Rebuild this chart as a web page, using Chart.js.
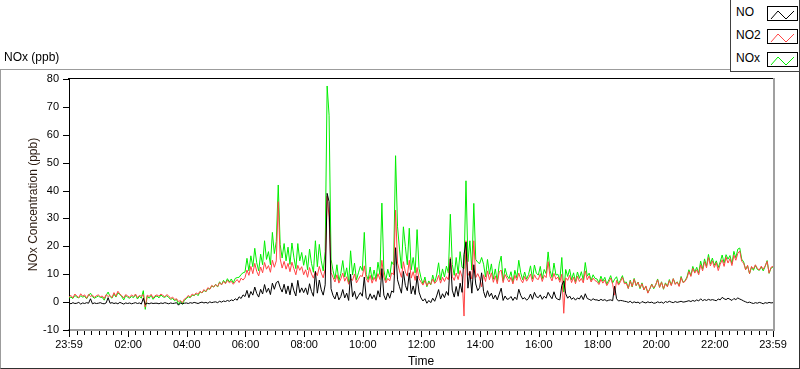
<!DOCTYPE html>
<html>
<head>
<meta charset="utf-8">
<script src="https://cdn.jsdelivr.net/npm/chart.js@4.4.1/dist/chart.umd.min.js"></script>
<style>
  html, body { margin:0; padding:0; background:#fff; }
  body { width:800px; height:369px; position:relative; overflow:hidden; font-family:"Liberation Sans", Arial, sans-serif; color:#000; }
  #wrap { position:absolute; left:0; top:0; width:800px; height:369px; }
  #panel { position:absolute; left:0; top:69px; width:798px; height:298px; border-top:1px solid #9c9c9c; border-left:1px solid #9c9c9c; border-right:1px solid #303030; border-bottom:1px solid #303030; pointer-events:none; }
  #title { position:absolute; left:4px; top:50px; font-size:12px; }
  #legend { position:absolute; left:730px; top:-1px; width:68px; height:72px; background:#fff; border:1px solid #404040; border-top:none; }
  .item { position:absolute; left:5px; font-size:12px; }
  .swatch { position:absolute; left:36px; width:29px; height:13px; border:1px solid #000; background:#fff; }
</style>
</head>
<body>
<div id="wrap"><canvas id="chart"></canvas></div>
<div id="panel"></div>
<div id="title">NOx (ppb)</div>
<div id="legend"></div>
<script>
// samples every 4 minutes, starting 23:59 (minute 0) to 23:59 next day (minute 1440)
const sampleStep = 4;

const no2Values = [
  1.8, 2.4, 1.5, 2.9, 2.2, 1.6, 3.0, 2.1, 2.6, 1.4, 2.8, 2.0, 2.5, 1.7, 2.3,
  2.6, 1.9, 2.2, 1.3, 2.7, 2.0, 2.4, 1.6, 3.4, 2.1, 3.9, 2.9, 2.3, 1.5, 2.7,
  2.2, 1.7, 2.6, 2.0, 2.9, 1.6, 2.4, 2.1, 2.7, -1.8, 2.5, 2.0, 2.8, 1.5, 2.3,
  2.6, 2.1, 2.9, 2.4, 1.9, 2.7, 2.2, 1.3, 1.8, 0.9, 1.2, 0.2, 0.6, -0.2, 1.1,
  1.5, 2.4, 1.8, 2.9, 2.4, 3.3, 2.8, 3.9, 3.3, 4.5, 3.8, 5.2, 4.6, 6.0, 5.4,
  6.3, 5.6, 7.0, 6.2, 7.4, 6.6, 7.8, 6.9, 7.5, 6.4, 7.3, 8.1, 7.0, 8.6, 7.9,
  8.8, 11.5, 9.6, 12.8, 10.2, 13.9, 11.0, 9.4, 12.6, 10.5, 14.2, 11.8, 13.1, 10.7, 15.0,
  12.5, 14.8, 36.0, 15.5, 12.2, 14.6, 11.8, 13.9, 10.9, 14.3, 12.0, 9.8, 13.2, 11.4, 12.7,
  9.8, 11.6, 8.9, 12.4, 10.1, 8.6, 11.0, 9.5, 12.8, 10.4, 8.7, 11.9, 38.0, 30.5, 10.6,
  8.9, 7.2, 9.8, 6.8, 8.3, 10.4, 7.5, 9.1, 6.4, 8.4, 7.8, 10.1, 6.9, 8.2, 9.5,
  9.2, 13.0, 8.4, 7.1, 9.6, 6.8, 8.9, 7.4, 10.2, 8.1, 15.0, 9.0, 6.9, 8.5, 7.6,
  10.5, 9.8, 33.0, 14.0, 11.2, 8.9, 14.5, 10.8, 9.3, 15.0, 8.6, 10.9, 7.8, 12.4, 8.4,
  7.2, 6.1, 7.8, 5.9, 7.0, 6.4, 8.3, 6.7, 7.5, 9.6, 6.8, 8.9, 7.4, 9.1, 8.0,
  16.0, 9.2, 7.8, 10.4, 8.1, 11.3, 9.0, -5.0, 22.0, 9.5, 11.0, 8.3, 22.0, 8.8, 10.2,
  8.6, 5.5, 9.8, 7.4, 11.2, 8.0, 10.5, 7.1, 9.4, 6.6, 10.8, 11.5, 7.0, 9.9, 8.5,
  7.2, 8.9, 6.5, 9.6, 7.8, 10.4, 8.1, 6.9, 9.2, 7.5, 8.6, 10.1, 7.3, 9.8, 8.4,
  8.1, 10.2, 7.4, 9.6, 8.8, 14.5, 9.1, 7.6, 10.3, 8.2, 9.0, 7.1, 10.0, -4.0, 8.7,
  7.8, 9.6, 7.0, 8.9, 6.6, 9.3, 7.4, 8.5, 6.9, 11.2, 8.0, 9.4, 7.2, 8.6, 7.7,
  7.4, 6.3, 8.2, 6.8, 7.9, 5.9, 7.1, 8.6, 6.4, 2.5, 7.8, 6.1, 7.3, 8.9, 6.6,
  6.8, 4.9, 7.5, 5.6, 8.2, 6.0, 7.1, 5.2, 6.6, 4.4, 5.8, 3.2, 4.8, 6.3, 5.1,
  6.2, 8.0, 5.3, 7.1, 4.8, 6.6, 5.5, 7.7, 5.9, 8.4, 6.3, 7.2, 5.6, 8.8, 7.0,
  7.4, 8.6, 11.0, 9.2, 12.1, 10.4, 11.6, 9.8, 13.4, 11.2, 14.5, 12.3, 16.0, 13.0, 14.8,
  12.4, 14.2, 11.3, 13.5, 15.2, 12.8, 16.1, 14.0, 15.6, 13.1, 16.8, 15.0, 17.5, 18.3, 14.6,
  14.0, 11.6, 13.2, 10.2, 12.8, 11.9, 13.4, 12.1, 11.5, 12.9, 11.8, 13.0, 14.6, 10.4, 12.5,
  12.8
];

const noValues = [
  -0.3, -0.6, -0.2, -0.5, -0.4, -0.1, -0.7, -0.3, -0.5, -0.2, -0.4, 1.2, -0.6, -0.3, -0.5,
  -0.4, -0.2, -0.5, -0.6, -0.3, 1.6, -0.4, -0.2, -0.5, -0.3, -0.6, -0.1, -0.4, -0.7, -0.3,
  -0.5, -0.3, -0.6, -0.4, -0.2, -0.5, -0.3, -0.7, 1.4, -0.8, -0.4, -0.6, -0.3, -0.5, -0.4,
  -0.4, -0.6, -0.3, -0.5, -0.2, -0.4, -0.6, -0.3, -0.5, -0.4, -0.2, -1.1, -0.3, -0.6, -0.4,
  -0.3, -0.5, -0.2, -0.4, -0.1, -0.3, -0.5, -0.2, 0.0, -0.3, -0.1, -0.4, 0.1, -0.2, 0.0,
  0.1, -0.2, 0.3, 0.0, 0.4, 0.2, 0.6, 0.3, 0.8, 0.5, 1.2, 0.7, 1.9, 1.3, 2.6,
  2.0, 4.2, 1.6, 3.8, 2.5, 5.4, 3.1, 1.8, 4.6, 2.9, 6.3, 3.5, 5.0, 2.7, 6.8,
  4.6, 7.0, 7.5, 5.2, 3.6, 6.4, 3.0, 5.8, 2.6, 6.9, 4.1, 2.2, 7.8, 3.4, 5.1,
  3.4, 5.1, 2.7, 6.6, 3.8, 2.1, 11.0, 3.2, 7.9, 4.4, 2.5, 6.2, 39.0, 36.0, 4.8,
  2.4, 1.1, 3.6, 0.8, 2.0, 4.5, 1.5, 3.2, 0.6, 10.0, 1.9, 3.9, 1.0, 2.3, 3.4,
  2.1, 9.0, 1.5, 0.9, 3.0, 1.2, 2.6, 0.7, 4.1, 1.8, 12.0, 2.5, 0.8, 3.3, 1.4,
  4.0, 3.5, 19.5, 8.0, 5.5, 3.2, 11.0, 6.0, 4.1, 10.5, 3.0, 5.8, 2.7, 9.4, 3.6,
  1.5, 0.4, 1.2, -0.4, 0.6, -0.2, 1.4, 0.3, 2.2, 4.5, 1.1, 3.0, 1.6, 3.8, 2.4,
  15.5, 4.3, 1.8, 5.6, 2.1, 6.8, 3.5, 17.0, 21.5, 5.0, 11.0, 3.2, 13.4, 6.5, 4.1,
  5.2, 10.5, 3.8, 1.6, 4.1, 2.0, 3.2, 1.1, 2.5, 0.8, 2.9, 5.0, 0.6, 2.2, 1.0,
  1.2, 2.0, 0.6, 1.8, 0.9, 4.6, 2.4, 1.1, 1.6, 0.7, 1.3, 2.9, 1.0, 3.5, 1.9,
  1.6, 2.6, 1.0, 2.1, 1.4, 3.5, 2.2, 1.2, 3.7, 1.5, 1.0, 0.8, 6.0, 7.6, 3.0,
  1.4, 2.2, 1.0, 1.6, 0.7, 1.5, 1.1, 2.4, 0.9, 3.0, 1.3, 1.0, 0.6, 1.2, 0.8,
  0.8, 0.5, 1.0, 0.6, 0.9, 0.4, 0.7, 0.8, 0.5, 5.7, 1.2, 0.4, 0.6, 0.5, 0.3,
  0.2, -0.1, 0.3, -0.3, 0.1, -0.2, 0.0, -0.5, 0.2, -0.1, -0.3, 0.1, -0.2, 0.0, -0.4,
  -0.3, 0.1, -0.2, 0.0, -0.4, 0.2, -0.1, 0.3, 0.0, -0.2, 0.2, -0.1, 0.1, 0.3, 0.0,
  0.1, 0.3, 0.5, 0.2, 0.6, 0.3, 0.8, 0.4, 1.2, 0.5, 0.9, 0.6, 1.0, 0.7, 0.9,
  0.7, 0.5, 1.1, 0.8, 1.7, 1.2, 0.9, 1.4, 1.0, 0.6, 1.3, 0.9, 1.5, 1.1, 0.8,
  0.4, 0.1, -0.2, 0.0, -0.3, -0.5, -0.2, -0.4, -0.1, -0.3, -0.6, -0.2, -0.4, -0.1, -0.3,
  -0.2
];

const noxValues = [
  1.5, 1.8, 1.3, 2.4, 1.8, 1.5, 2.3, 1.8, 2.1, 1.2, 2.4, 3.2, 1.9, 1.4, 1.8,
  2.2, 1.7, 1.7, 0.7, 2.4, 3.6, 2.0, 1.4, 2.9, 1.8, 3.3, 2.8, 1.9, 0.8, 2.4,
  1.7, 1.4, 2.0, 1.6, 2.7, 1.1, 2.1, 1.4, 4.1, -2.6, 2.1, 1.4, 2.5, 1.0, 1.9,
  2.2, 1.5, 2.6, 1.9, 1.7, 2.3, 1.6, 1.0, 1.3, 0.5, 1.0, -0.9, 0.3, -0.8, 0.7,
  1.2, 1.9, 1.6, 2.5, 2.3, 3.0, 2.3, 3.7, 3.3, 4.2, 3.7, 4.8, 4.7, 5.8, 5.4,
  6.4, 5.4, 7.3, 6.2, 7.8, 6.8, 8.4, 7.2, 8.3, 6.9, 8.5, 8.8, 8.9, 9.9, 10.5,
  10.8, 15.7, 11.2, 16.6, 12.7, 19.3, 14.1, 11.2, 17.2, 13.4, 22.0, 15.3, 18.1, 13.4, 25.0,
  17.4, 21.8, 42.0, 20.6, 15.8, 21.0, 14.8, 19.7, 13.5, 21.2, 16.1, 12.0, 21.0, 14.8, 17.8,
  13.2, 16.7, 11.6, 19.0, 13.9, 10.7, 22.0, 12.7, 20.7, 14.8, 11.2, 18.1, 77.5, 67.0, 15.4,
  11.3, 8.3, 13.4, 7.6, 10.3, 14.9, 9.0, 12.3, 7.0, 18.4, 9.7, 14.0, 7.9, 10.5, 12.9,
  11.3, 25.0, 9.9, 8.0, 12.6, 8.0, 11.5, 8.1, 14.3, 9.9, 35.5, 11.5, 7.7, 11.8, 9.0,
  14.5, 13.3, 52.5, 27.0, 19.0, 12.1, 27.0, 20.0, 13.4, 26.5, 11.6, 16.0, 10.5, 26.0, 12.0,
  8.7, 6.5, 9.0, 5.5, 7.6, 6.2, 9.7, 7.0, 9.7, 14.1, 7.9, 11.9, 9.0, 12.9, 10.4,
  31.5, 13.5, 9.6, 16.0, 10.2, 18.1, 12.5, 12.0, 43.5, 14.5, 22.0, 11.5, 35.4, 15.3, 14.3,
  13.8, 16.0, 13.6, 9.0, 15.3, 10.0, 13.7, 8.2, 11.9, 7.4, 13.7, 16.5, 7.6, 12.1, 9.5,
  8.4, 10.9, 7.1, 11.4, 8.7, 15.0, 10.5, 8.0, 10.8, 8.2, 9.9, 13.0, 8.3, 13.3, 10.3,
  9.7, 12.8, 8.4, 11.7, 10.2, 18.0, 11.3, 8.8, 14.0, 9.7, 10.0, 7.9, 16.0, 3.6, 11.7,
  9.2, 11.8, 8.0, 10.5, 7.3, 10.8, 8.5, 10.9, 7.8, 14.2, 9.3, 10.4, 7.8, 9.8, 8.5,
  8.3, 6.9, 9.3, 7.5, 8.9, 6.4, 7.9, 9.5, 6.9, 8.2, 9.1, 6.6, 7.9, 9.5, 7.0,
  7.2, 4.9, 7.9, 5.4, 8.5, 5.9, 7.2, 4.8, 6.9, 4.4, 5.6, 3.4, 4.7, 6.5, 4.8,
  6.1, 8.3, 5.3, 7.3, 4.6, 6.9, 5.6, 8.1, 6.1, 8.4, 6.6, 7.3, 5.9, 9.2, 7.1,
  7.6, 9.0, 11.6, 9.5, 12.8, 10.8, 12.5, 10.3, 14.7, 11.8, 15.5, 12.9, 17.1, 13.7, 15.8,
  13.2, 14.8, 12.4, 14.4, 16.9, 14.0, 17.0, 15.4, 16.7, 13.7, 18.2, 15.9, 19.0, 19.4, 15.4,
  14.4, 11.7, 13.0, 10.2, 12.5, 11.4, 13.2, 11.7, 11.4, 12.6, 11.2, 12.8, 14.9, 10.3, 12.2,
  12.6
];

// x axis: minutes after 23:59
const tickMinutes = [0, 121, 241, 361, 481, 601, 721, 841, 961, 1081, 1201, 1321, 1440];
const tickLabels = ['23:59', '02:00', '04:00', '06:00', '08:00', '10:00', '12:00', '14:00', '16:00', '18:00', '20:00', '22:00', '23:59'];
const yTicks = [-10, 0, 10, 20, 30, 40, 50, 60, 70, 80];

const series = [
  { label: 'NO', values: noValues, color: '#000000' },
  { label: 'NO2', values: no2Values, color: '#ff4444' },
  { label: 'NOx', values: noxValues, color: '#00ee00' }
];

function toPoints(vals){
  return vals.map((v, i) => ({ x: i * sampleStep, y: v }));
}

// legend (html)
const legend = document.getElementById('legend');
series.forEach((s, i) => {
  const top = 7 + i * 23;
  legend.innerHTML += `<div class="item" style="top:${top - 1}px">${s.label}</div>
    <div class="swatch" style="top:${top}px"><svg width="29" height="13"><polyline points="3,11 10,3 18,11 26,3" fill="none" stroke="${s.color}" stroke-width="1"/></svg></div>`;
});

// ticks + top/right frame of plot
const framePlugin = {
  id: 'frame',
  afterDraw(chart){
    const ctx = chart.ctx, a = chart.chartArea, xs = chart.scales.x, ys = chart.scales.y;
    ctx.save();
    ctx.strokeStyle = '#000';
    ctx.lineWidth = 1;
    ctx.beginPath();
    for(let m = 1; m < 1440; m += 15){
      const px = Math.round(xs.getPixelForValue(m)) + 0.5;
      ctx.moveTo(px, a.bottom + 1); ctx.lineTo(px, a.bottom + 5);
    }
    tickMinutes.forEach(m => {
      const px = Math.round(xs.getPixelForValue(m)) + 0.5;
      ctx.moveTo(px, a.bottom + 1); ctx.lineTo(px, a.bottom + 7);
    });
    yTicks.forEach(v => {
      const py = Math.round(ys.getPixelForValue(v)) + 0.5;
      ctx.moveTo(a.left - 6, py); ctx.lineTo(a.left, py);
    });
    ctx.stroke();
    // top line
    ctx.beginPath();
    ctx.moveTo(a.left - 1, a.top - 0.5); ctx.lineTo(a.right + 1, a.top - 0.5);
    ctx.stroke();
    // right line
    ctx.strokeStyle = '#a0a0a0';
    ctx.lineWidth = 2;
    ctx.beginPath();
    ctx.moveTo(a.right + 1, a.top - 1); ctx.lineTo(a.right + 1, a.bottom + 1);
    ctx.stroke();
    ctx.restore();
  }
};

new Chart(document.getElementById('chart'), {
  type: 'line',
  data: {
    datasets: series.map(s => ({
      label: s.label,
      data: toPoints(s.values),
      borderColor: s.color,
      borderWidth: 1,
      pointRadius: 0,
      tension: 0,
      fill: false
    }))
  },
  options: {
    responsive: true,
    maintainAspectRatio: false,
    animation: false,
    events: [],
    layout: { padding: { left: 0, top: 79, right: 27, bottom: 0 } },
    plugins: { legend: { display: false }, tooltip: { enabled: false } },
    scales: {
      x: {
        type: 'linear',
        min: 0, max: 1440,
        afterBuildTicks: sc => { sc.ticks = tickMinutes.map(v => ({ value: v })); },
        afterFit: sc => { sc.height = 39; },
        grid: { display: false, drawTicks: false },
        border: { display: true, color: '#a0a0a0', width: 2 },
        ticks: {
          autoSkip: false, maxRotation: 0, padding: 8,
          color: '#000',
          font: { family: 'Liberation Sans', size: 11 },
          callback: v => tickLabels[tickMinutes.indexOf(v)]
        },
        title: { display: true, text: 'Time', color: '#000', padding: { top: 0, bottom: 0 }, font: { family: 'Liberation Sans', size: 12 } }
      },
      y: {
        min: -10, max: 80,
        afterBuildTicks: sc => { sc.ticks = yTicks.map(v => ({ value: v })); },
        afterFit: sc => { sc.width = 69; },
        grid: { display: false, drawTicks: false },
        border: { display: true, color: '#000', width: 1 },
        ticks: { padding: 10, color: '#000', font: { family: 'Liberation Sans', size: 11 } },
        title: { display: true, text: 'NOx Concentration (ppb)', color: '#2a1a10', padding: { top: 26, bottom: 0 }, font: { family: 'Liberation Sans', size: 12 } }
      }
    }
  },
  plugins: [framePlugin]
});
</script>
</body>
</html>
